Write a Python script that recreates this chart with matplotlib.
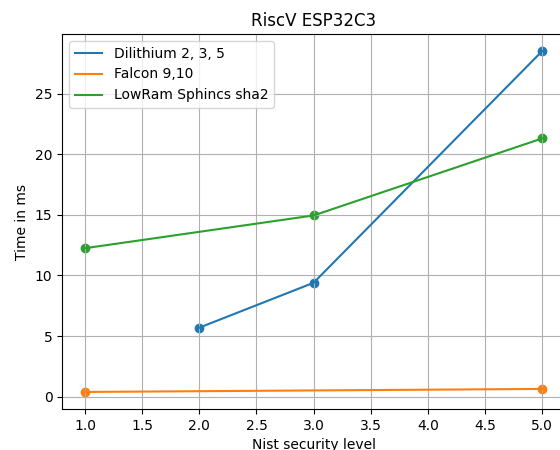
import matplotlib
matplotlib.use("Agg")
import matplotlib.pyplot as plt

dil_x = [2, 3, 5]
dil_y = [5.7, 9.4, 28.5]
fal_x = [1, 5]
fal_y = [0.4, 0.65]
sph_x = [1, 3, 5]
sph_y = [12.25, 14.95, 21.3]

fig = plt.figure(figsize=(5.6, 4.5), dpi=100)
ax = fig.add_axes([0.111, 0.0911, 0.898, 0.8333])
series = [(dil_x, dil_y, "Dilithium 2, 3, 5", "C0"),
          (fal_x, fal_y, "Falcon 9,10", "C1"),
          (sph_x, sph_y, "LowRam Sphincs sha2", "C2")]
for x, y, lab, c in series:
    ax.plot(x, y, color=c, label=lab)
    ax.scatter(x, y, color=c)
ax.set_title("RiscV ESP32C3")
ax.set_xlabel("Nist security level")
ax.set_ylabel("Time in ms")
ax.grid(True)
ax.legend(loc="upper left")
fig.savefig("out.png", dpi=100)
